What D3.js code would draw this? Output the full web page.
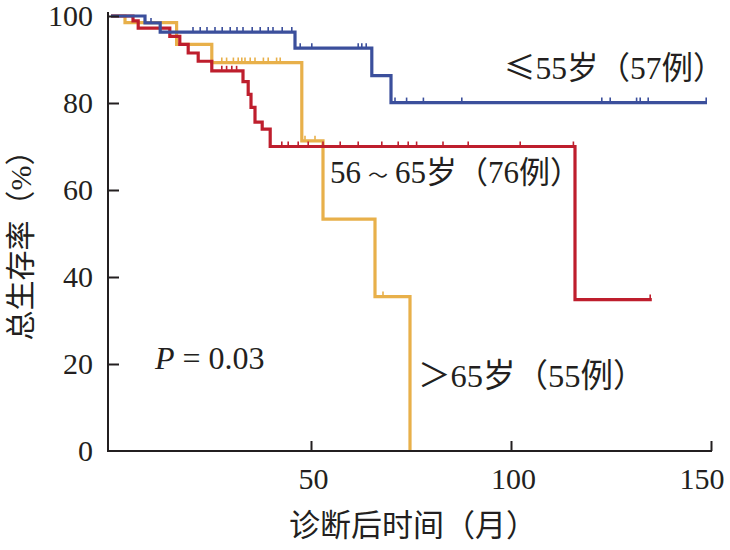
<!DOCTYPE html>
<html><head><meta charset="utf-8">
<script src="https://cdn.jsdelivr.net/npm/d3@7"></script>
<style>
html,body{margin:0;padding:0;background:#fff;}
text{font-family:"Liberation Serif","Noto Sans CJK SC",serif;fill:#231f20;}
</style></head>
<body><svg id="c" width="730" height="550"></svg>
<script>
// ---- data ----
const xTicks = [50, 100, 150];
const yTicks = [0, 20, 40, 60, 80, 100];

// ≤55 group (blue)
const blueTimes = [0, 8.5, 12.3, 46.0, 65.2, 70.0, 149.0];
const blueSurv  = [100, 98.4, 96.3, 92.6, 86.3, 80.1, 80.1];
const blueCens  = [10, 20.5, 22.3, 24, 26, 27.8, 29.8, 31.5, 33, 35.3, 37.3, 39.3, 40.5, 42.8, 45.2,
                   47.3, 50.2, 61.8, 62.7, 63.8, 71, 73.9, 78.1, 87.7, 122.7, 124.8, 131.4, 132.3, 134.3, 148.8];

// 56~65 group (red)
const redTimes = [0, 5.5, 6.8, 14.7, 17.2, 19.3, 21.8, 25.2, 33.0, 34.3, 35.0, 36.0, 37.8, 39.8, 116.0, 135.2];
const redSurv  = [100, 98.9, 97.2, 95.3, 93.5, 91.5, 89.6, 87.4, 84.9, 82.0, 79.0, 75.6, 74.0, 70.0, 34.8, 34.8];
const redCens  = [27.7, 28.9, 30.2, 31.4, 42.7, 44.3, 46.8, 49.3, 53, 57.3, 61.8, 67.7, 71.8, 74.3, 76.4,
                  83, 89.3, 102.3, 115.6, 134.8];

// >65 group (yellow)
const yellowTimes = [0, 3.5, 16.4, 25.2, 47.7, 53.0, 66.0, 74.75];
const yellowSurv  = [100, 98.5, 93.5, 89.3, 71.3, 53.3, 35.5, 0];
const yellowCens  = [27.7, 28.9, 30.6, 31.8, 32.7, 33.5, 34.8, 36, 38.1, 39.3, 41.4, 42.3, 48.5, 51, 68];

const label1 = ["≤", "55岁（57例）"];
const label2 = ["56", "～", "65岁（76例）"];
const label3 = "＞65岁（55例）";
const pText = "0.03";

// ---- drawing ----
const svg = d3.select("#c");
const x = d3.scaleLinear().domain([0, 150]).range([111, 711]);
const y = d3.scaleLinear().domain([0, 100]).range([451, 16]);
const axisColor = "#231f20";
const CJK = '"Noto Sans CJK SC",sans-serif';

// curves
const groups = [
  {t: yellowTimes, s: yellowSurv, c: yellowCens, col: "#E8B04A"},
  {t: redTimes, s: redSurv, c: redCens, col: "#BE1E2D"},
  {t: blueTimes, s: blueSurv, c: blueCens, col: "#3B4F9C"}
];
const line = d3.line().x(d => x(d[0])).y(d => y(d[1])).curve(d3.curveStepAfter);
function survAt(g, t) {
  let v = g.s[0];
  for (let i = 0; i < g.t.length; i++) if (g.t[i] <= t) v = g.s[i];
  return v;
}
groups.forEach(g => {
  const pts = g.t.map((t, i) => [t, g.s[i]]);
  svg.append("path").attr("d", line(pts)).attr("fill", "none")
    .attr("stroke", g.col).attr("stroke-width", 3.2).attr("stroke-linejoin", "miter");
  svg.append("g").selectAll("line").data(g.c).join("line")
    .attr("x1", d => x(d)).attr("x2", d => x(d))
    .attr("y1", d => y(survAt(g, d)) - 1).attr("y2", d => y(survAt(g, d)) - 5)
    .attr("stroke", g.col).attr("stroke-width", 1.6);
});

// axes
const xAxis = d3.axisBottom(x).tickValues(xTicks).tickSizeInner(-10).tickSizeOuter(0);
const gx = svg.append("g").attr("transform", "translate(0,451)").call(xAxis);
gx.select(".domain").remove();
gx.append("line").attr("x1", 108).attr("x2", x(150) + 1).attr("y1", 0).attr("y2", 0)
  .attr("stroke", axisColor).attr("stroke-width", 2);
gx.selectAll(".tick line").attr("stroke", axisColor).attr("stroke-width", 2);
gx.selectAll(".tick text").attr("font-size", 30).attr("fill", "#231f20")
  .style("font-family", '"Liberation Serif",serif').attr("dy", null).attr("y", 38)
  .attr("text-anchor", d => d === 150 ? "end" : "middle")
  .attr("x", d => d === 150 ? 13 : 2);

const yAxis = d3.axisLeft(y).tickValues(yTicks).tickSizeInner(0).tickSizeOuter(0).tickPadding(15);
const gy = svg.append("g").attr("transform", "translate(108,0)").call(yAxis);
gy.select(".domain").remove();
gy.append("line").attr("x1", 0).attr("x2", 0).attr("y1", 12).attr("y2", 452)
  .attr("stroke", axisColor).attr("stroke-width", 2);
gy.selectAll(".tick").filter(d => d > 0).append("line")
  .attr("x1", 0).attr("x2", 11).attr("stroke", axisColor).attr("stroke-width", 2);
gy.selectAll(".tick text").attr("font-size", 30).attr("fill", "#231f20")
  .style("font-family", '"Liberation Serif",serif');

// axis titles
svg.append("text").attr("x", 413).attr("y", 536).attr("text-anchor", "middle")
  .attr("font-size", 31).text("诊断后时间（月）");
svg.append("text").attr("transform", "translate(31,238) rotate(-90)").attr("text-anchor", "middle")
  .attr("font-size", 30).text("总生存率（%）");

// group labels
const t1 = svg.append("text").attr("x", 504).attr("y", 79).attr("font-size", 31.5);
t1.append("tspan").style("font-family", CJK).text(label1[0]);
t1.append("tspan").text(label1[1]);

const t2 = svg.append("text").attr("x", 330).attr("y", 183).attr("font-size", 31);
t2.append("tspan").text(label2[0]);
t2.append("tspan").attr("dx", 7).attr("font-size", 20).style("font-family", CJK).text(label2[1]);
t2.append("tspan").attr("dx", 7).text(label2[2]);

svg.append("text").attr("x", 418).attr("y", 387).attr("font-size", 32.5).text(label3);

// P value
const pt = svg.append("text").attr("x", 155).attr("y", 369).attr("font-size", 32);
pt.append("tspan").attr("font-style", "italic").text("P");
pt.append("tspan").text(" = " + pText);
</script></body></html>
